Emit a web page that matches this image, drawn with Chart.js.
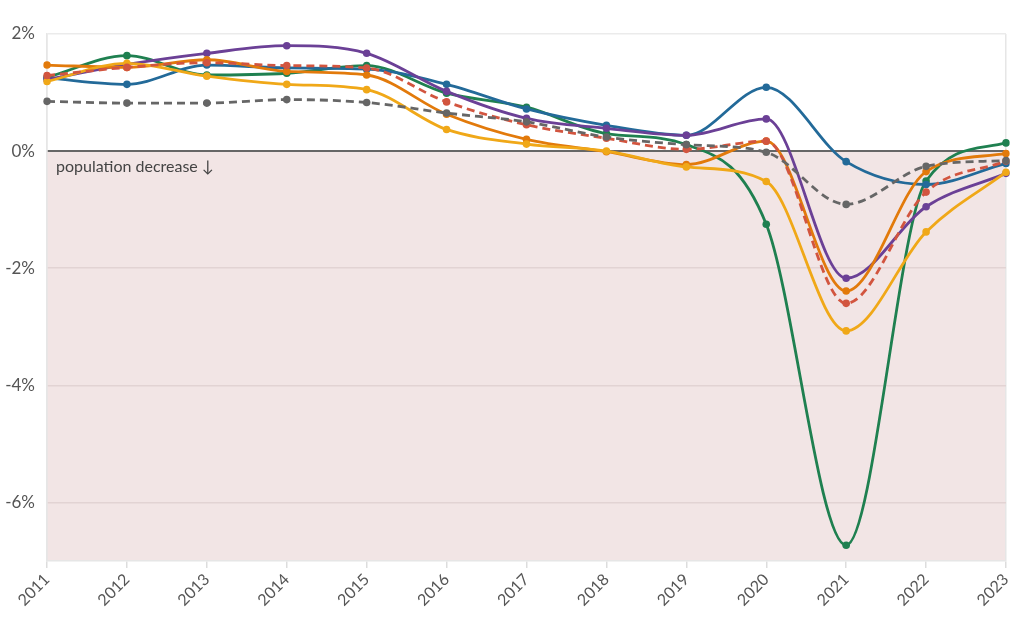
<!DOCTYPE html>
<html>
<head>
<meta charset="utf-8">
<script src="https://cdn.jsdelivr.net/npm/chart.js@4/dist/chart.umd.min.js"></script>
<style>
  html, body { margin: 0; padding: 0; background: #fff; }
  #wrap { width: 1024px; height: 627px; position: relative; }
</style>
</head>
<body>
<div id="wrap"><canvas id="c" width="1024" height="627"></canvas></div>
<script>
const years = ['2011','2012','2013','2014','2015','2016','2017','2018','2019','2020','2021','2022','2023'];
const blueSeries   = [1.25, 1.14, 1.47, 1.42, 1.40, 1.14, 0.72, 0.44, 0.27, 1.09, -0.18, -0.57, -0.21];
const greenSeries  = [1.26, 1.63, 1.30, 1.33, 1.46, 0.99, 0.75, 0.30, 0.11, -1.25, -6.73, -0.51, 0.14];
const purpleSeries = [1.22, 1.48, 1.67, 1.80, 1.67, 1.02, 0.56, 0.39, 0.27, 0.55, -2.17, -0.95, -0.38];
const orangeSeries = [1.47, 1.43, 1.56, 1.36, 1.30, 0.63, 0.20, -0.01, -0.23, 0.17, -2.39, -0.35, -0.04];
const yellowSeries = [1.19, 1.50, 1.28, 1.14, 1.05, 0.37, 0.12, 0.00, -0.27, -0.52, -3.07, -1.38, -0.36];
const redSeries    = [1.29, 1.43, 1.51, 1.46, 1.42, 0.84, 0.45, 0.22, 0.03, 0.17, -2.60, -0.70, -0.17];
const greySeries   = [0.85, 0.82, 0.82, 0.88, 0.83, 0.65, 0.50, 0.24, 0.11, -0.02, -0.91, -0.26, -0.16];
const yTickValues  = [-6, -4, -2, 0, 2];
const annotationText = 'population decrease \u2193';

const FONT = 'Lato, "Noto Sans", sans-serif';

function ds(data, color, dashed) {
  return {
    data: data,
    borderColor: color,
    backgroundColor: color,
    pointBackgroundColor: color,
    pointBorderColor: color,
    borderWidth: 2.8,
    pointRadius: 3.8,
    pointBorderWidth: 0,
    pointHoverRadius: 3.8,
    borderDash: dashed ? [8, 5] : [],
    cubicInterpolationMode: 'monotone',
    fill: false
  };
}

const bgPlugin = {
  id: 'bg',
  beforeDraw(chart) {
    const {ctx, chartArea, scales} = chart;
    const y0 = scales.y.getPixelForValue(0);
    ctx.save();
    ctx.fillStyle = 'rgb(242,229,229)';
    ctx.fillRect(chartArea.left, y0, chartArea.right - chartArea.left, chartArea.bottom - y0);
    ctx.restore();
  },
  beforeDatasetsDraw(chart) {
    const {ctx, chartArea, scales} = chart;
    const y0 = scales.y.getPixelForValue(0);
    ctx.save();
    ctx.fillStyle = '#444';
    ctx.font = '16px ' + FONT;
    ctx.textBaseline = 'middle';
    ctx.fillText(annotationText, chartArea.left + 9, y0 + 16);
    ctx.restore();
  }
};

new Chart(document.getElementById('c'), {
  type: 'line',
  data: {
    labels: years,
    datasets: [
      ds(greySeries, '#666666', true),
      ds(redSeries, '#d2553f', true),
      ds(yellowSeries, '#f0a818', false),
      ds(orangeSeries, '#e27a0b', false),
      ds(purpleSeries, '#6b4096', false),
      ds(blueSeries, '#236a99', false),
      ds(greenSeries, '#1f8050', false)
    ]
  },
  options: {
    responsive: false,
    animation: false,
    layout: { padding: { top: 34, right: 18, left: 0, bottom: 0 } },
    plugins: { legend: { display: false }, tooltip: { enabled: false } },
    scales: {
      x: {
        offset: false,
        grid: {
          color: (c) => (c.index === 0 || c.index === years.length - 1) ? '#e6e6e6' : 'rgba(0,0,0,0)',
          tickColor: '#dddddd',
          tickLength: 7,
          lineWidth: 1.5
        },
        border: { color: '#e6e6e6', width: 1.5 },
        ticks: {
          color: '#555',
          font: { family: FONT, size: 16 },
          minRotation: 45,
          maxRotation: 45,
          padding: 2,
          autoSkip: false
        },
        afterFit(s) { s.height = 66; }
      },
      y: {
        min: -7,
        max: 2,
        afterBuildTicks(s) { s.ticks = yTickValues.map(v => ({ value: v })); },
        afterFit(s) { s.width = 47; },
        grid: {
          drawTicks: false,
          color: (c) => c.tick.value === 0 ? '#666666' : (c.tick.value > 0 ? '#ebebeb' : '#e2d3d3'),
          lineWidth: (c) => c.tick.value === 0 ? 2 : 1.5
        },
        border: { color: '#e6e6e6', width: 1.5 },
        ticks: {
          color: '#555',
          font: { family: FONT, size: 17 },
          padding: 12,
          callback: (v) => v + '%'
        }
      }
    }
  },
  plugins: [bgPlugin]
});
</script>
</body>
</html>
